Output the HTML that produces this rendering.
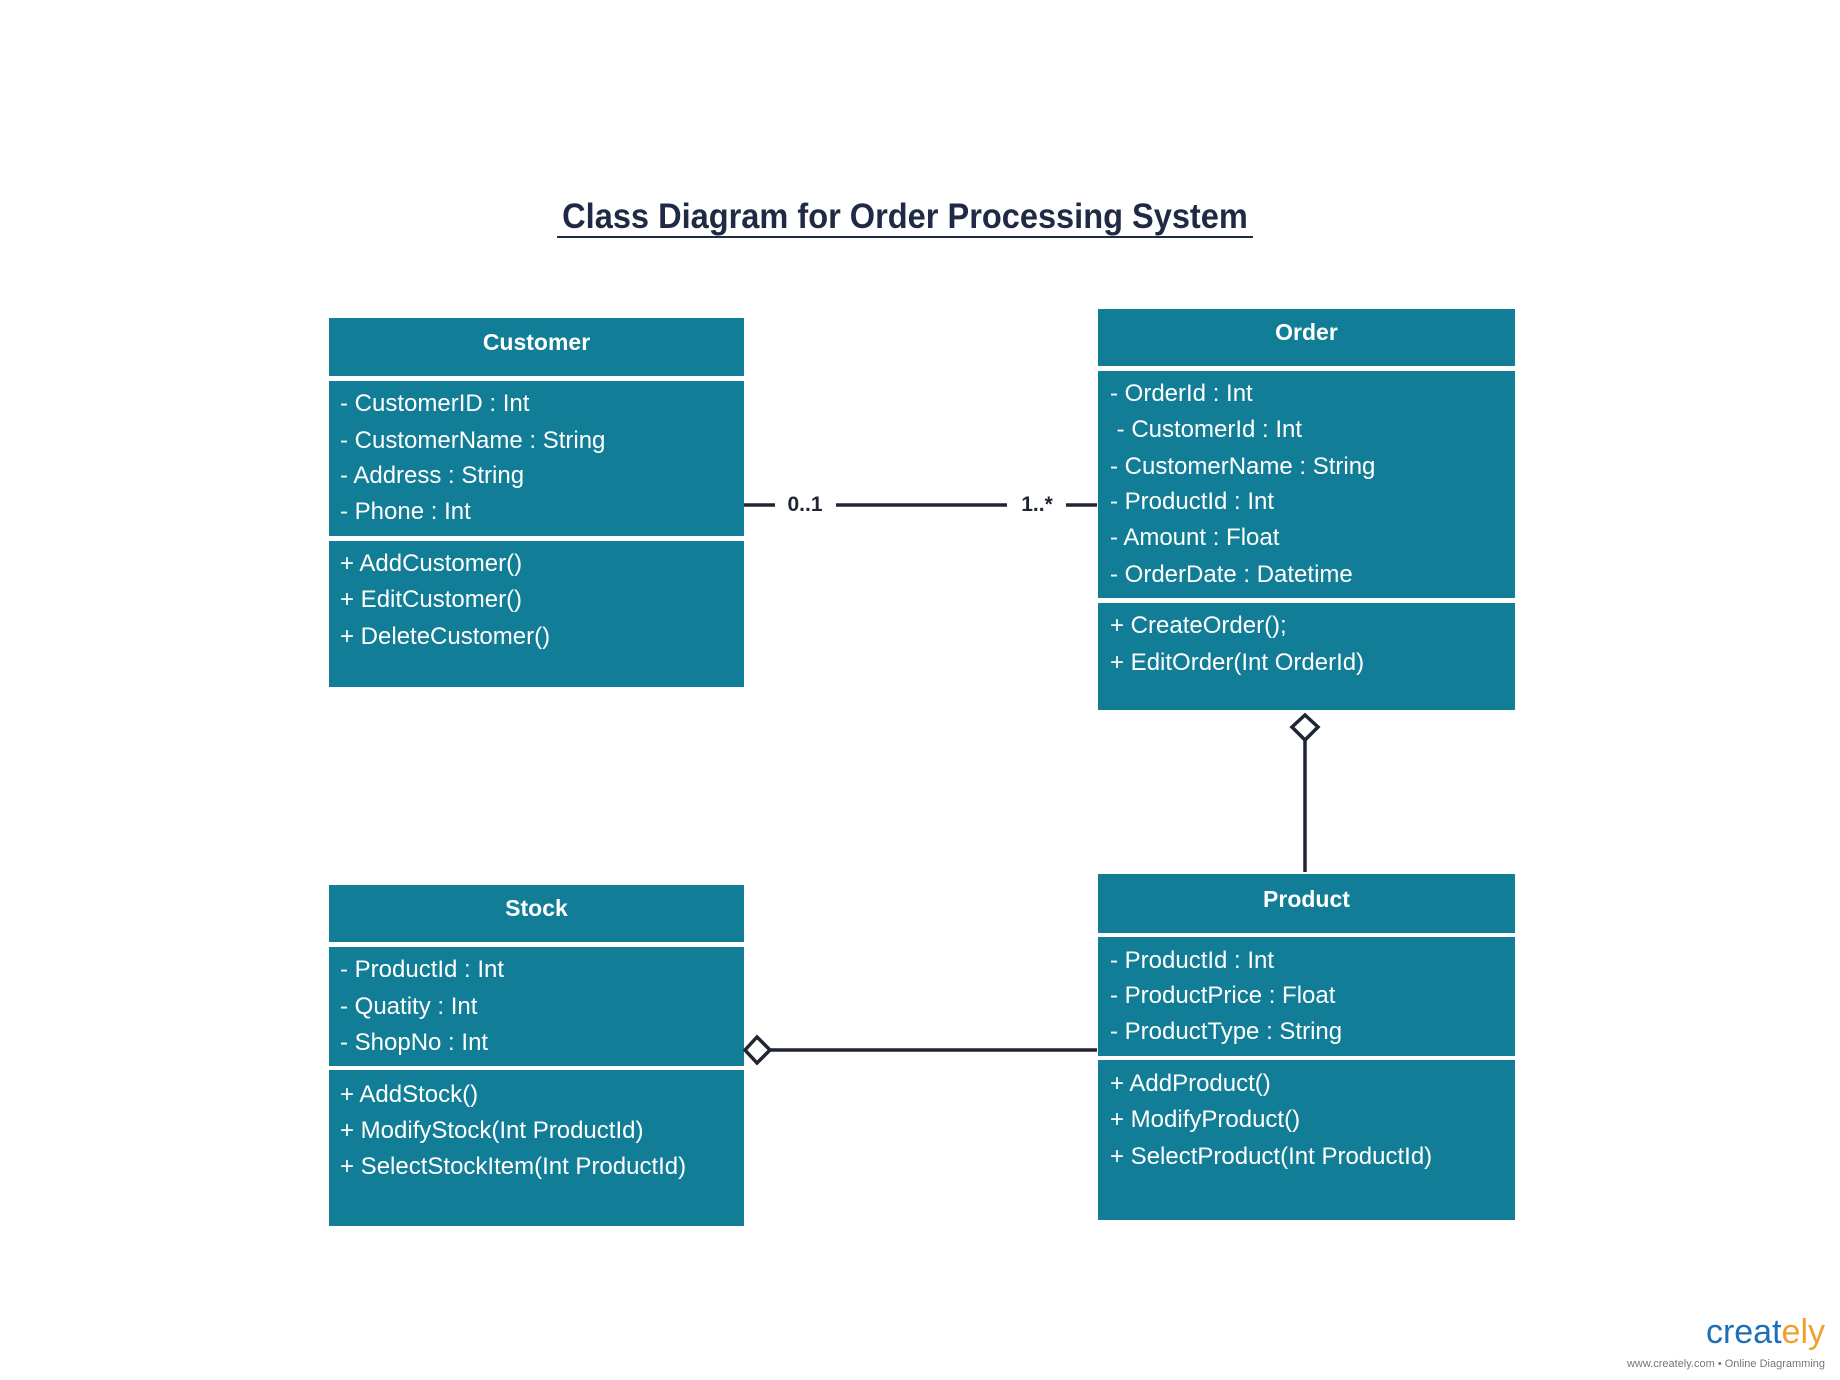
<!DOCTYPE html>
<html><head><meta charset="utf-8"><style>
body{margin:0;width:1840px;height:1380px;background:#fff;position:relative;overflow:hidden;font-family:"Liberation Sans",Arial,sans-serif}
.b{position:absolute;background:#127d96}
.t{position:absolute;color:#fff;font-size:24px;white-space:pre;line-height:26px;margin-top:2px}
.h{font-weight:bold;text-align:center;font-size:23px}
.l{position:absolute;font-weight:bold;font-size:21px;color:#1f2533;line-height:24px}
</style></head><body>
<div style="position:absolute;left:405px;top:196px;width:1000px;text-align:center;font-size:35px;font-weight:bold;color:#1f2a44;line-height:42px;white-space:nowrap;transform:scaleX(0.93);transform-origin:center">Class Diagram for Order Processing System</div>
<div style="position:absolute;left:557px;top:236px;width:696px;height:2px;background:#1f2a44"></div>

<!-- Customer -->
<div class="b" style="left:329px;top:318px;width:415px;height:58px"></div>
<div class="b" style="left:329px;top:381px;width:415px;height:155px"></div>
<div class="b" style="left:329px;top:541px;width:415px;height:146px"></div>
<div class="t h" style="left:329px;top:327px;width:415px">Customer</div>
<div class="t" style="left:340px;top:389px">- CustomerID : Int</div>
<div class="t" style="left:340px;top:426px">- CustomerName : String</div>
<div class="t" style="left:340px;top:461px">- Address : String</div>
<div class="t" style="left:340px;top:497px">- Phone : Int</div>
<div class="t" style="left:340px;top:549px">+ AddCustomer()</div>
<div class="t" style="left:340px;top:585px">+ EditCustomer()</div>
<div class="t" style="left:340px;top:622px">+ DeleteCustomer()</div>

<!-- Order -->
<div class="b" style="left:1098px;top:309px;width:417px;height:57px"></div>
<div class="b" style="left:1098px;top:371px;width:417px;height:227px"></div>
<div class="b" style="left:1098px;top:603px;width:417px;height:107px"></div>
<div class="t h" style="left:1098px;top:317px;width:417px">Order</div>
<div class="t" style="left:1110px;top:379px">- OrderId : Int</div>
<div class="t" style="left:1110px;top:415px"> - CustomerId : Int</div>
<div class="t" style="left:1110px;top:452px">- CustomerName : String</div>
<div class="t" style="left:1110px;top:487px">- ProductId : Int</div>
<div class="t" style="left:1110px;top:523px">- Amount : Float</div>
<div class="t" style="left:1110px;top:560px">- OrderDate : Datetime</div>
<div class="t" style="left:1110px;top:611px">+ CreateOrder();</div>
<div class="t" style="left:1110px;top:648px">+ EditOrder(Int OrderId)</div>

<!-- Stock -->
<div class="b" style="left:329px;top:885px;width:415px;height:57px"></div>
<div class="b" style="left:329px;top:947px;width:415px;height:119px"></div>
<div class="b" style="left:329px;top:1070px;width:415px;height:156px"></div>
<div class="t h" style="left:329px;top:893px;width:415px">Stock</div>
<div class="t" style="left:340px;top:955px">- ProductId : Int</div>
<div class="t" style="left:340px;top:992px">- Quatity : Int</div>
<div class="t" style="left:340px;top:1028px">- ShopNo : Int</div>
<div class="t" style="left:340px;top:1080px">+ AddStock()</div>
<div class="t" style="left:340px;top:1116px">+ ModifyStock(Int ProductId)</div>
<div class="t" style="left:340px;top:1152px">+ SelectStockItem(Int ProductId)</div>

<!-- Product -->
<div class="b" style="left:1098px;top:874px;width:417px;height:59px"></div>
<div class="b" style="left:1098px;top:937px;width:417px;height:119px"></div>
<div class="b" style="left:1098px;top:1060px;width:417px;height:160px"></div>
<div class="t h" style="left:1098px;top:884px;width:417px">Product</div>
<div class="t" style="left:1110px;top:946px">- ProductId : Int</div>
<div class="t" style="left:1110px;top:981px">- ProductPrice : Float</div>
<div class="t" style="left:1110px;top:1017px">- ProductType : String</div>
<div class="t" style="left:1110px;top:1069px">+ AddProduct()</div>
<div class="t" style="left:1110px;top:1105px">+ ModifyProduct()</div>
<div class="t" style="left:1110px;top:1142px">+ SelectProduct(Int ProductId)</div>

<svg style="position:absolute;left:0;top:0" width="1840" height="1380">
<g stroke="#1f2533" stroke-width="3.5" fill="none">
<line x1="744" y1="505" x2="775" y2="505"/>
<line x1="836" y1="505" x2="1007" y2="505"/>
<line x1="1066" y1="505" x2="1097" y2="505"/>
<line x1="1305" y1="740" x2="1305" y2="872"/>
<polygon points="1305,715 1318,727 1305,740 1292,727" fill="#fff"/>
<line x1="770" y1="1050" x2="1097" y2="1050"/>
<polygon points="745,1050 757,1037 770,1050 757,1063" fill="#fff"/>
</g>
</svg>
<div class="l" style="left:780px;top:493px;width:50px;text-align:center">0..1</div>
<div class="l" style="left:1012px;top:493px;width:50px;text-align:center">1..*</div>

<div style="position:absolute;left:1695px;top:1312px;width:130px;text-align:right;font-size:34px;color:#1e6fb8;line-height:40px">creat<span style="color:#f0a030">ely</span></div>
<div style="position:absolute;left:1600px;top:1357px;width:225px;text-align:right;font-size:11px;color:#777;line-height:14px">www.creately.com • Online Diagramming</div>
</body></html>
